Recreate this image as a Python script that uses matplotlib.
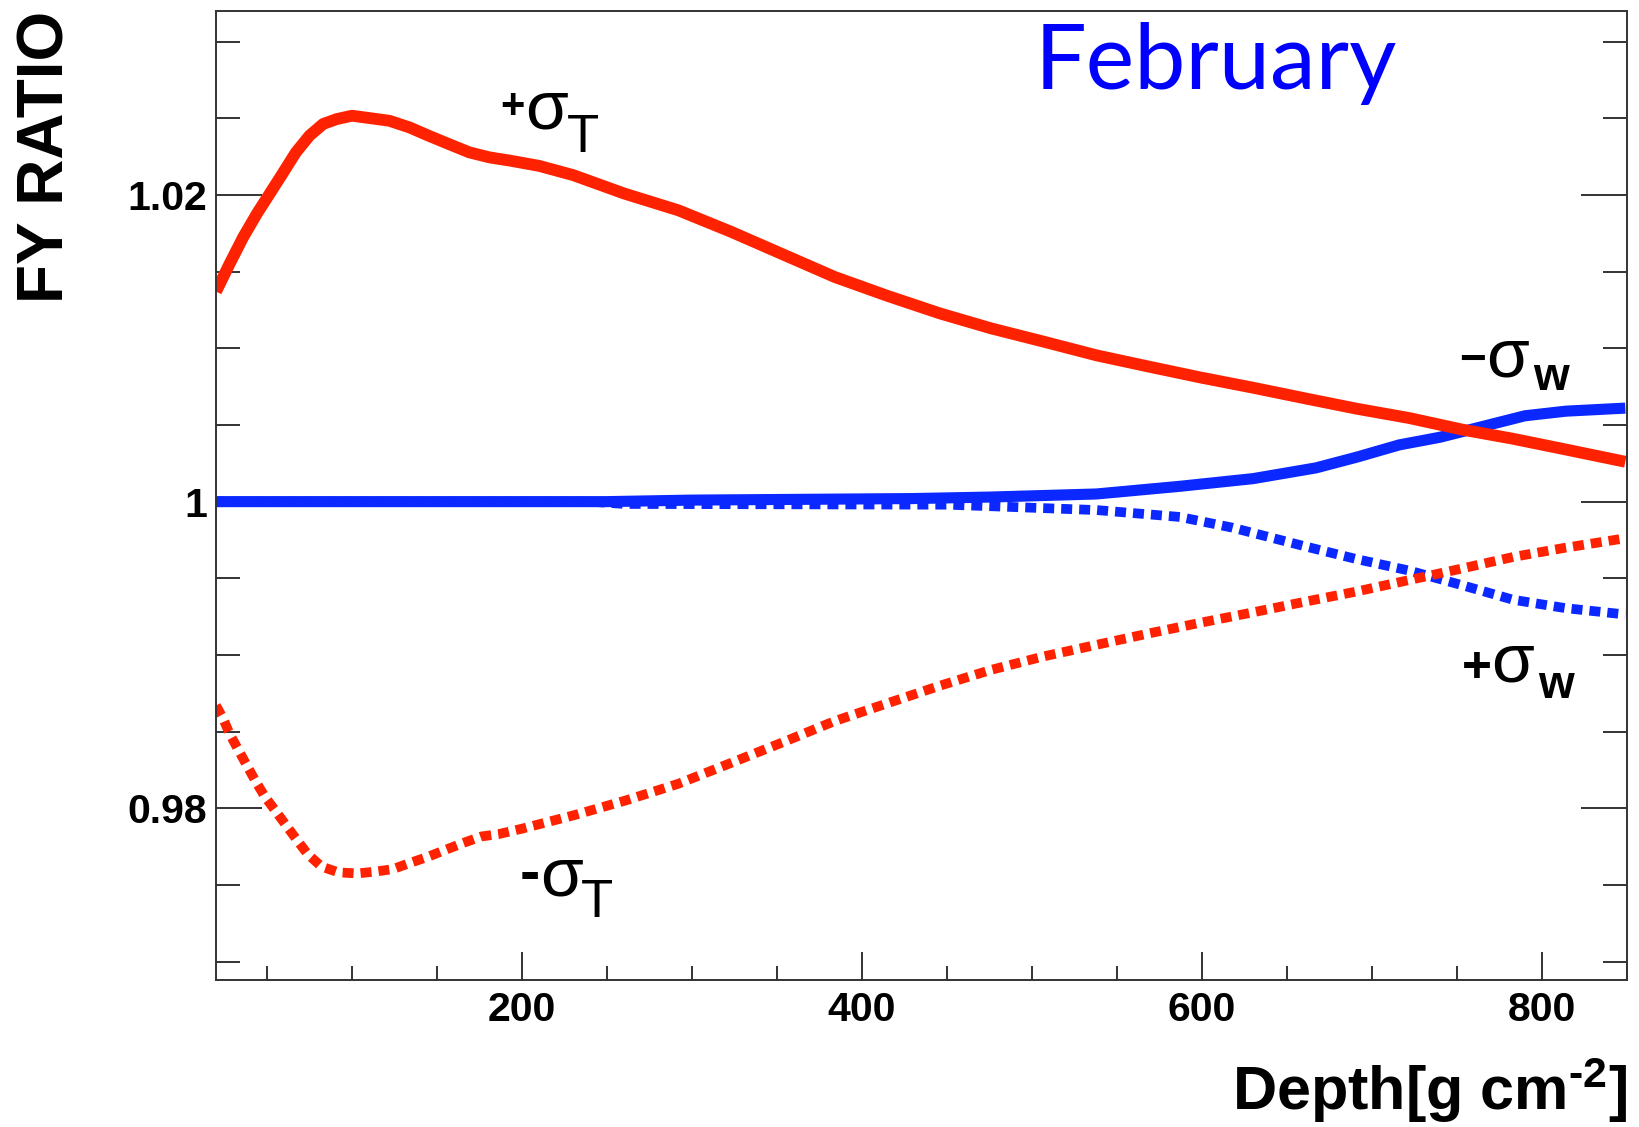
import matplotlib
matplotlib.use('Agg')
import matplotlib.pyplot as plt
from matplotlib.ticker import FixedLocator, MultipleLocator

# +sigma_T (red, solid)
depth_pt = [20, 28, 36, 44, 51.5, 59, 67, 75, 83, 91, 100, 110, 122, 134, 145,
            157, 169, 181, 193, 210, 230, 260, 292, 323, 354, 384, 415, 446, 476,
            507, 538, 569, 599, 630, 660, 691, 722, 753, 783, 814, 849]
ratio_pt = [1.0137, 1.01551, 1.01725, 1.01877, 1.02007, 1.02137, 1.02278,
            1.02387, 1.02463, 1.02495, 1.02517, 1.02502, 1.02484, 1.0244,
            1.02387, 1.02332, 1.02278, 1.02245, 1.02224, 1.0219, 1.0213, 1.0201,
            1.0190, 1.0176, 1.0161, 1.01465, 1.01342, 1.01227, 1.0113, 1.01043,
            1.00954, 1.0088, 1.0081, 1.00743, 1.00675, 1.00606, 1.00545, 1.0047,
            1.0041, 1.0034, 1.0026]

# -sigma_T (red, dotted)
depth_mt = [20, 24, 28, 33, 38, 43, 48.5, 55, 61.5, 68, 74, 82, 92, 103, 113, 124,
            135, 144.5, 155, 165, 176, 186, 200, 231, 261, 292, 323, 354, 384,
            415, 446, 476, 507, 538, 569, 599, 630, 660, 691, 722, 753, 783, 814,
            849]
ratio_mt = [0.9867, 0.9859, 0.98486, 0.98384, 0.98282, 0.98182, 0.9808, 0.97983,
            0.97885, 0.97787, 0.977, 0.9762, 0.97582, 0.97575, 0.97586, 0.97603,
            0.97647, 0.97683, 0.97729, 0.97772, 0.97816, 0.97831, 0.97867,
            0.97956, 0.98051, 0.9816, 0.98296, 0.98433, 0.98569, 0.98685, 0.988,
            0.98903, 0.98991, 0.99066, 0.99141, 0.9921, 0.99278, 0.99346,
            0.99414, 0.99489, 0.99564, 0.99639, 0.997, 0.99761]

# -sigma_W (blue, solid)
depth_mw = [20, 250, 300, 430, 476, 538, 587, 630, 667, 691, 716, 740, 765, 790,
            814, 849]
ratio_mw = [1.0, 1.0, 1.0001, 1.0002, 1.0003, 1.0005, 1.001, 1.0015, 1.0022,
            1.0029, 1.0037, 1.0042, 1.0049, 1.0056, 1.0059, 1.0061]

# +sigma_W (blue, dotted)
depth_pw = [20, 240, 260, 450, 476, 538, 587, 618, 660, 691, 722, 753, 783, 814,
            849]
ratio_pw = [1.0, 1.0, 0.99985, 0.9998, 0.9997, 0.99945, 0.999, 0.9983, 0.9971,
            0.99625, 0.9955, 0.99455, 0.9936, 0.99305, 0.99264]

xticks = [200, 400, 600, 800]
xtick_labels = ['200', '400', '600', '800']
yticks = [0.98, 1.0, 1.02]
ytick_labels = ['0.98', '1', '1.02']

plt.rcParams['font.family'] = 'Liberation Sans'
plt.rcParams['mathtext.fontset'] = 'custom'
plt.rcParams['mathtext.rm'] = 'Liberation Sans:bold'
plt.rcParams['mathtext.it'] = 'Liberation Sans:bold'
plt.rcParams['mathtext.bf'] = 'Liberation Sans:bold'

W, H = 1639, 1127
fig = plt.figure(figsize=(W / 100, H / 100), dpi=100)
ax = fig.add_axes([216 / W, 1 - 980 / H, (1627 - 216) / W, (980 - 11) / H])

red = '#ff2200'
blue = '#0a28ff'
ax.plot(depth_pw, ratio_pw, color=blue, lw=7, linestyle=(0, (1.13, 0.72)),
        dash_capstyle='butt')
ax.plot(depth_mw, ratio_mw, color=blue, lw=8, solid_capstyle='butt')
ax.plot(depth_mt, ratio_mt, color=red, lw=7, linestyle=(0, (1.13, 0.72)),
        dash_capstyle='butt')
ax.plot(depth_pt, ratio_pt, color=red, lw=8.5, solid_capstyle='butt')

ax.set_xlim(20, 850)
ax.set_ylim(0.9688, 1.0320)
ax.xaxis.set_major_locator(FixedLocator(xticks))
ax.xaxis.set_minor_locator(MultipleLocator(50))
ax.yaxis.set_major_locator(FixedLocator(yticks))
ax.yaxis.set_minor_locator(MultipleLocator(0.005))
ax.set_xticklabels(xtick_labels, fontweight='bold')
ax.set_yticklabels(ytick_labels, fontweight='bold')

frame = '#333333'
ax.tick_params(axis='x', which='major', direction='in', length=20, width=1.4,
               pad=8, labelsize=29.5, color=frame, top=False)
ax.tick_params(axis='x', which='minor', direction='in', length=10, width=1.4,
               color=frame, top=False)
ax.tick_params(axis='y', which='major', direction='in', length=33, width=1.4,
               pad=6.5, labelsize=29.5, color=frame, left=True, right=True)
ax.tick_params(axis='y', which='minor', direction='in', length=17, width=1.4,
               color=frame, left=True, right=True)
for sp in ax.spines.values():
    sp.set_color(frame)
    sp.set_linewidth(1.4)

# curve labels: (text, x, y, size, weight, va)
curve_labels = [
    ('+', 187.5, 1.02576, 30, 'bold', 'center'),
    ('σ', 201.8, 1.02433, 50, 'normal', 'baseline'),
    ('T', 226.5, 1.02283, 38, 'normal', 'baseline'),
    ('-', 198.4, 0.97560, 44, 'bold', 'center'),
    ('σ', 210.4, 0.97431, 50, 'normal', 'baseline'),
    ('T', 234.5, 0.97288, 38, 'normal', 'baseline'),
    ('\u2212', 751.5, 1.0092, 33, 'bold', 'center'),
    ('σ', 767.4, 1.00818, 50, 'normal', 'baseline'),
    ('w', 795.0, 1.00729, 33, 'bold', 'baseline'),
    ('+', 752.7, 0.9891, 37, 'bold', 'center'),
    ('σ', 769.9, 0.98828, 50, 'normal', 'baseline'),
    ('w', 797.5, 0.98719, 33, 'bold', 'baseline'),
]
for s, x, y, size, weight, va in curve_labels:
    ax.text(x, y, s, fontsize=size, fontweight=weight, ha='left', va=va)

fig.text(47 / W, 1 - 10.5 / H, 'FY RATIO', rotation=90, ha='center', va='top',
         fontsize=46, fontweight='bold')
fig.text(1627 / W, 1 - 1110 / H, r'Depth[g cm$^{\text{-}2}$]', ha='right',
         va='baseline', fontsize=44, fontweight='bold')
fig.text(1035 / W, 1 - 89 / H, 'February', color='#0000ff', fontsize=66,
         family='Lato', ha='left', va='baseline')

fig.savefig('out.png', dpi=100)
